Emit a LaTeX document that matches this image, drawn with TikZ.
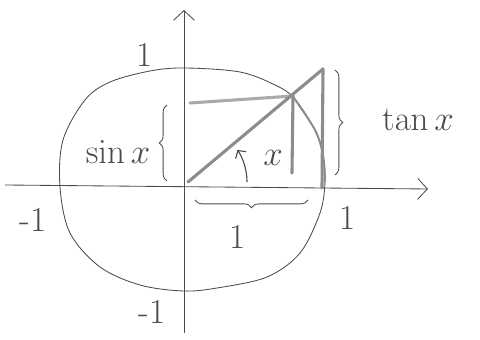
\documentclass[tikz,border=0pt]{standalone}
\usepackage{xcolor}
\definecolor{pencil}{RGB}{75,75,75}
\definecolor{pencilgray}{RGB}{140,140,140}
\definecolor{pencillight}{RGB}{170,170,170}
\usetikzlibrary{arrows.meta,decorations.pathreplacing}

\begin{document}
\begin{tikzpicture}[
  x=0.025cm,y=0.025cm,
  axis/.style={draw=pencil,line width=0.6pt,-{Straight Barb[length=7pt,width=15pt]}},
  heavy/.style={draw=pencilgray,line width=2.2pt,line cap=round},
  brc/.style={draw=pencil,line width=0.6pt,decorate,decoration={brace,amplitude=5.5pt}},
  lbl/.style={font=\Huge,text=pencil}
]
  \useasboundingbox (-188,-158) rectangle (292,182);
  % Axes
  \coordinate (xl) at (-183,-3);
  \coordinate (xr) at (240,-7);
  \coordinate (yb) at (-4,-151);
  \coordinate (yt) at (-4,172);
  \draw[axis] (xl) -- (xr);
  \draw[axis] (yb) -- (yt);
  % Circle
  \draw[pencil,line width=0.6pt] plot[smooth cycle,tension=0.55] coordinates {
    (137,0) (132,-31) (112,-71) (79,-95) (29,-106) (-5,-109) (-48,-103)
    (-88,-85) (-118,-51) (-128,-5) (-125,42) (-103,82) (-78,100) (-38,111)
    (-3,114) (52,110) (87,97) (106,84) (127,52) (135,27)};
  % Triangle
  \coordinate (O) at (0,0);
  \coordinate (T) at (135,113);
  \coordinate (P) at (105,86);
  \coordinate (S) at (104,9);
  \coordinate (A) at (134,-6);
  \coordinate (Y) at (2,79);
  \draw[heavy,draw=pencillight] (Y) -- (P);
  \draw[heavy] (O) -- (T);
  \draw[heavy] (T) -- (A);
  \draw[heavy] (P) -- (S);
  \draw[heavy,line width=1.4pt] plot[smooth,tension=0.55] coordinates {(106,84) (127,52) (135,27) (137,0)};
  % Angle
  \draw[pencil,line width=0.8pt,-{Straight Barb[length=4pt,width=9pt]}]
    (59,0) arc[start angle=0,end angle=33,radius=1.475cm];
  \node[lbl] (ang) at (85,24) {$x$};
  % Braces
  \coordinate (sb) at (-21,1);
  \coordinate (st) at (-21,77);
  \draw[brc] (sb) -- (st);
  \node[lbl] (sin) at (-70,30) {$\sin x$};
  \coordinate (tt) at (147,112);
  \coordinate (tb) at (147,7);
  \draw[brc] (tt) -- (tb);
  \node[lbl] (tan) at (230,62) {$\tan x$};
  \coordinate (ur) at (120,-18);
  \coordinate (ul) at (7,-18);
  \draw[brc] (ur) -- (ul);
  \node[lbl] (one) at (50,-55) {1};
  % Axis labels
  \node[lbl] (ytop) at (-43,127) {1};
  \node[lbl] (xneg) at (-155,-38) {-1};
  \node[lbl] (xpos) at (160,-36) {1};
  \node[lbl] (yneg) at (-36,-130) {-1};
\end{tikzpicture}
\end{document}
